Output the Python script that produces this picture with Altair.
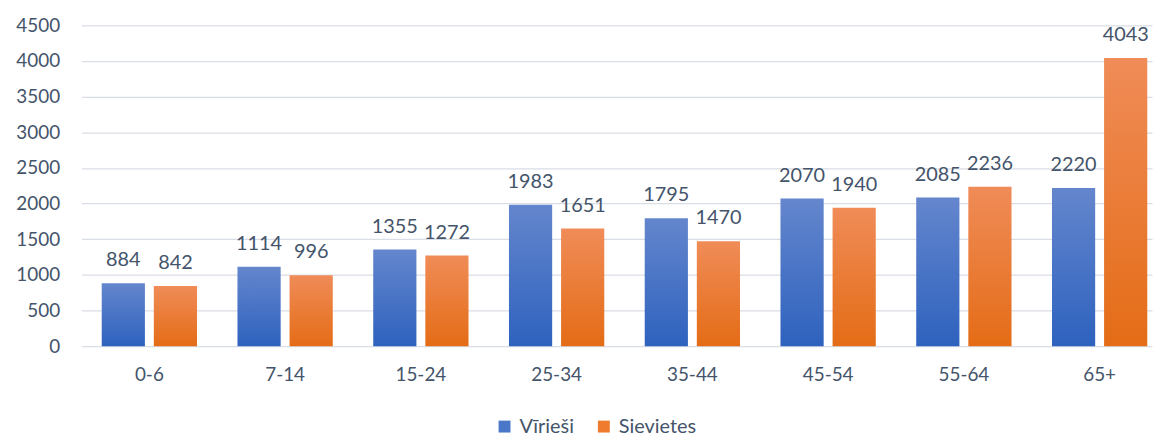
import altair as alt
import pandas as pd

categories = ["0-6", "7-14", "15-24", "25-34", "35-44", "45-54", "55-64", "65+"]
virieši = [884, 1114, 1355, 1983, 1795, 2070, 2085, 2220]
sievietes = [842, 996, 1272, 1651, 1470, 1940, 2236, 4043]
series = ["Vīrieši", "Sievietes"]

rows = []
for c, m, f in zip(categories, virieši, sievietes):
    rows.append({"cat": c, "series": series[0], "val": m})
    rows.append({"cat": c, "series": series[1], "val": f})
df = pd.DataFrame(rows)

FONT = "Lato"
TXT = "#44546A"

grad_blue = {"gradient": "linear", "x1": 0, "y1": 0, "x2": 0, "y2": 1,
             "stops": [{"offset": 0, "color": "#6486CD"}, {"offset": 1, "color": "#2E62BE"}]}
grad_orange = {"gradient": "linear", "x1": 0, "y1": 0, "x2": 0, "y2": 1,
               "stops": [{"offset": 0, "color": "#F08C58"}, {"offset": 1, "color": "#E46C16"}]}

y_scale = alt.Scale(domain=[0, 4500], nice=False)
y_axis = alt.Axis(values=list(range(0, 4501, 500)), format="d", labelPadding=22,
                  ticks=False, domain=False, grid=True, gridColor="#D9DEE6", gridWidth=1.3)

base = alt.Chart(df).encode(
    x=alt.X("cat:N", sort=categories, title=None,
            scale=alt.Scale(paddingInner=0.298, paddingOuter=0.092, align=0.81, round=False),
            axis=alt.Axis(labelAngle=0, labelPadding=20, ticks=False, domain=False, grid=False)),
    xOffset=alt.XOffset("series:N", sort=series, scale=alt.Scale(paddingInner=0.171)),
    y=alt.Y("val:Q", title=None, scale=y_scale, axis=y_axis),
)

legend_layer = base.mark_bar().encode(
    y=alt.YDatum(0, scale=y_scale, axis=y_axis, title=None),
    color=alt.Color("series:N", sort=series,
                    scale=alt.Scale(domain=series, range=["#4A77C8", "#EE7B2E"]),
                    legend=alt.Legend(title=None, orient="none", direction="horizontal",
                                      legendX=416, legendY=394,
                                      symbolType="square", symbolSize=144, symbolStrokeWidth=0,
                                      labelOffset=5, columnPadding=20)),
)

bars = base.mark_bar().encode(
    fill=alt.condition(alt.datum.series == "Vīrieši", alt.value(grad_blue), alt.value(grad_orange)),
)

labels = base.mark_text(baseline="alphabetic", dy=-17, font=FONT, fontSize=20, color=TXT).encode(
    text=alt.Text("val:Q", format="d"),
)

chart = alt.layer(bars, labels, legend_layer).properties(
    width=1078, height=323,
    padding={"left": 74, "top": 16, "right": 3, "bottom": 91},
    autosize=alt.AutoSizeParams(type="none"),
    background="white",
).configure_view(stroke=None).configure_axis(
    labelFont=FONT, labelFontSize=19, labelColor=TXT,
).configure_legend(
    labelFont=FONT, labelFontSize=20, labelColor=TXT,
)

chart.save("out.html", embed_options={"renderer": "svg", "actions": False})
